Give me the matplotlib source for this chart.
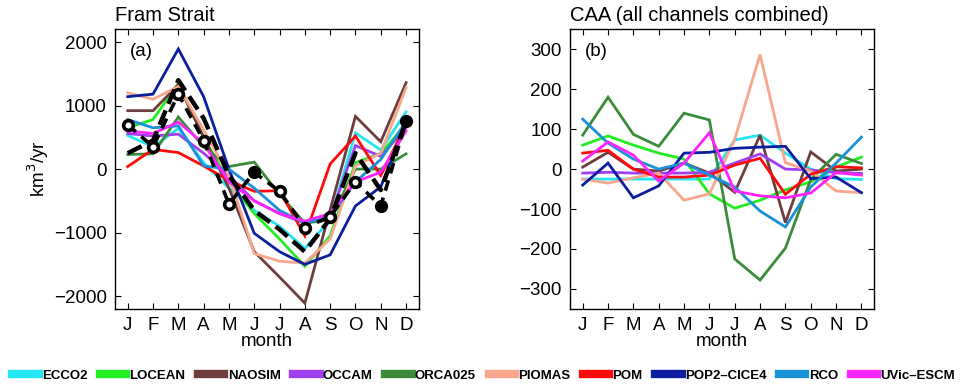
import numpy as np
import matplotlib
matplotlib.use("Agg")
import matplotlib.pyplot as plt
from matplotlib.lines import Line2D

plt.rcParams['font.family'] = ['Liberation Sans', 'DejaVu Sans']

months = ['J', 'F', 'M', 'A', 'M', 'J', 'J', 'A', 'S', 'O', 'N', 'D']
models = ['ECCO2', 'LOCEAN', 'NAOSIM', 'OCCAM', 'ORCA025', 'PIOMAS', 'POM',
          'POP2\u2013CICE4', 'RCO', 'UVic\u2013ESCM']
colors = ['#22e6f2', '#22ee22', '#6e3d3d', '#a040f0', '#3a8c3a', '#f9a68c',
          '#ff0a0a', '#0c1ea0', '#1a90d8', '#ff24ff']

# Panel (a): Fram Strait (km3/yr)
fram_ecco2   = [530, 350, 640, 100, -300, -650, -900, -1250, -800, 570, 300, 900]
fram_locean  = [650, 780, 1350, 500, -200, -700, -1100, -1530, -1050, 100, 250, 700]
fram_naosim  = [920, 920, 1330, 500, -300, -1300, -1700, -2110, -640, 830, 430, 1360]
fram_occam   = [560, 520, 550, 250, -100, -500, -700, -850, -750, 370, 200, 650]
fram_orca025 = [230, 240, 820, 350, 40, 110, -400, -850, -800, 0, 0, 240]
fram_piomas  = [1200, 1100, 1300, 620, -100, -1330, -1450, -1480, -1100, 50, 250, 1280]
fram_pom     = [40, 310, 260, 50, -180, -350, -340, -1050, 80, 520, -100, 700]
fram_pop2    = [1140, 1180, 1890, 1140, 0, -1010, -1300, -1500, -1350, -580, -280, 700]
fram_rco     = [780, 650, 680, 50, 0, -300, -650, -850, -750, -200, 150, 750]
fram_uvic    = [600, 560, 740, 400, -200, -500, -700, -820, -700, -200, -50, 600]
fram_obs1    = [250, 450, 1400, 800, -100, -650, -950, -1300, -780, 250, -330, 750]
fram_obs2    = [700, 350, 1180, 450, -550, -50, -350, -920, -750, -200, -580, 750]
fram_obs2_filled = [False, False, False, False, False, True, False, False, False, False, True, True]

# Panel (b): CAA (all channels combined)
caa_ecco2   = [-25, -25, -25, -25, -25, -25, 73, 85, 40, 0, -24, -26]
caa_locean  = [60, 83, 60, 40, 25, -62, -98, -78, -52, -32, 5, 30]
caa_naosim  = [5, 42, 0, -5, 15, -10, -58, 85, -134, 43, -5, 0]
caa_occam   = [-10, -8, -10, -10, -10, -8, 15, 38, 0, -2, -9, -11]
caa_orca025 = [85, 180, 87, 57, 140, 123, -225, -278, -198, -26, 37, 14]
caa_piomas  = [-25, -35, -22, -10, -78, -62, 75, 287, 16, -5, -55, -59]
caa_pom     = [40, 47, 0, -20, -20, -15, 10, 27, -63, -13, 6, 3]
caa_pop2    = [-40, 15, -72, -42, 40, 42, 52, 55, 57, -24, -20, -59]
caa_rco     = [125, 65, 25, 0, 15, -15, -45, -105, -145, -45, 15, 80]
caa_uvic    = [20, 68, 35, -30, 15, 91, -55, -67, -72, -60, -9, -15]

fram = [fram_ecco2, fram_locean, fram_naosim, fram_occam, fram_orca025,
        fram_piomas, fram_pom, fram_pop2, fram_rco, fram_uvic]
caa = [caa_ecco2, caa_locean, caa_naosim, caa_occam, caa_orca025,
       caa_piomas, caa_pom, caa_pop2, caa_rco, caa_uvic]

x = np.arange(1, 13)
fig = plt.figure(figsize=(9.67, 3.88), dpi=100)
axa = fig.add_axes([0.119, 0.204, 0.314, 0.7204])
axb = fig.add_axes([0.5895, 0.204, 0.3144, 0.7204])

FS = 13.5
for ax in (axa, axb):
    ax.set_xlim(0.5, 12.5)
    ax.set_xticks(x)
    ax.set_xticklabels(months, fontsize=FS)
    ax.tick_params(direction='in', top=True, right=True, length=4, width=0.8,
                   labelsize=FS, pad=6)
    ax.set_xlabel('month', fontsize=FS, labelpad=-1)
    for s in ax.spines.values():
        s.set_linewidth(1.0)

lw = 2.0
for vals, c in zip(fram, colors):
    axa.plot(x, vals, color=c, lw=lw, solid_joinstyle='miter')
axa.plot(x, fram_obs1, color='black', lw=3.2, ls=(0, (3.5, 1.6)))
axa.plot(x, fram_obs2, color='black', lw=2.6, ls=(0, (3, 2)))
obs2 = np.array(fram_obs2, dtype=float)
filled = np.array(fram_obs2_filled)
axa.plot(x[~filled], obs2[~filled], ls='none', marker='o', ms=7,
         mfc='white', mec='black', mew=2.6)
axa.plot(x[filled], obs2[filled], ls='none', marker='o', ms=8.5,
         mfc='black', mec='black')
axa.set_ylim(-2200, 2200)
axa.set_yticks([-2000, -1000, 0, 1000, 2000])
axa.set_yticklabels(['\u22122000', '\u22121000', '0', '1000', '2000'])
axa.set_ylabel('km$^3$/yr', fontsize=FS, labelpad=2)
axa.text(0.05, 0.95, '(a)', transform=axa.transAxes, fontsize=FS,
         va='top', ha='left')
axa.text(0.0, 1.015, 'Fram Strait', transform=axa.transAxes, fontsize=14.5,
         va='bottom', ha='left')

for vals, c in zip(caa, colors):
    axb.plot(x, vals, color=c, lw=lw, solid_joinstyle='miter')
axb.set_ylim(-350, 350)
axb.set_yticks([-300, -200, -100, 0, 100, 200, 300])
axb.set_yticklabels(['\u2212300', '\u2212200', '\u2212100', '0', '100', '200', '300'])
axb.text(0.05, 0.95, '(b)', transform=axb.transAxes, fontsize=FS,
         va='top', ha='left')
axb.text(0.0, 1.015, 'CAA (all channels combined)', transform=axb.transAxes,
         fontsize=14.5, va='bottom', ha='left')

handles = [Line2D([0], [0], color=c, lw=6) for c in colors]
fig.legend(handles, models, loc='center', bbox_to_anchor=(0.5, 0.031),
           ncol=10, frameon=False, handlelength=2.0, handletextpad=0.25,
           columnspacing=0.95, prop={'size': 9.5, 'weight': 'bold'})

fig.savefig('out.png', dpi=100)
